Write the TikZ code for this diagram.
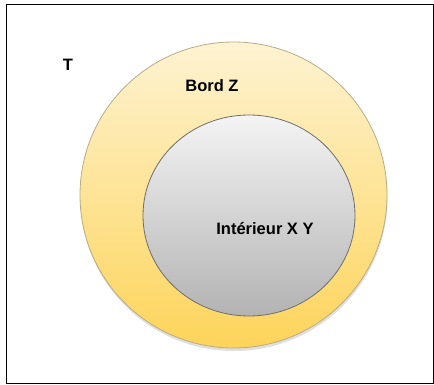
\documentclass[tikz,border=0pt]{standalone}
\usepackage{fontspec}
\setmainfont{Liberation Sans}
\usetikzlibrary{calc}
\definecolor{bordtop}{HTML}{FEF3D2}
\definecolor{bordbot}{HTML}{FDD45A}
\definecolor{bordline}{HTML}{B9AC84}
\definecolor{inttop}{HTML}{F4F4F4}
\definecolor{intbot}{HTML}{B3B3B3}
\definecolor{intline}{HTML}{6E6E6E}
\tikzset{
    label/.style={font=\fontsize{16.5}{19}\selectfont\bfseries, inner sep=0pt},
    bord/.style={top color=bordtop, bottom color=bordbot, draw=bordline, line width=0.8pt},
    inter/.style={top color=inttop, bottom color=intbot, draw=intline, line width=0.8pt}
}

\begin{document}
\begin{tikzpicture}[x=1pt, y=-1pt]
    \useasboundingbox (0,0) rectangle (434,385);
    \draw[black, line width=1pt] (6,5) rectangle (433,383);
    % shadow of the outer set
    \fill[gray!25] (234,198) ellipse [x radius=153.5, y radius=153];
    \draw[bord] (233.5,195) ellipse [x radius=153.5, y radius=153];
    \draw[inter] (249,215.5) ellipse [x radius=106, y radius=100.5];
    \node[label] (t) at (68,65) {T};
    \node[label] (bord) at (212,86) {Bord Z};
    \node[label] (int) at (265,229) {Intérieur X Y};
\end{tikzpicture}
\end{document}
